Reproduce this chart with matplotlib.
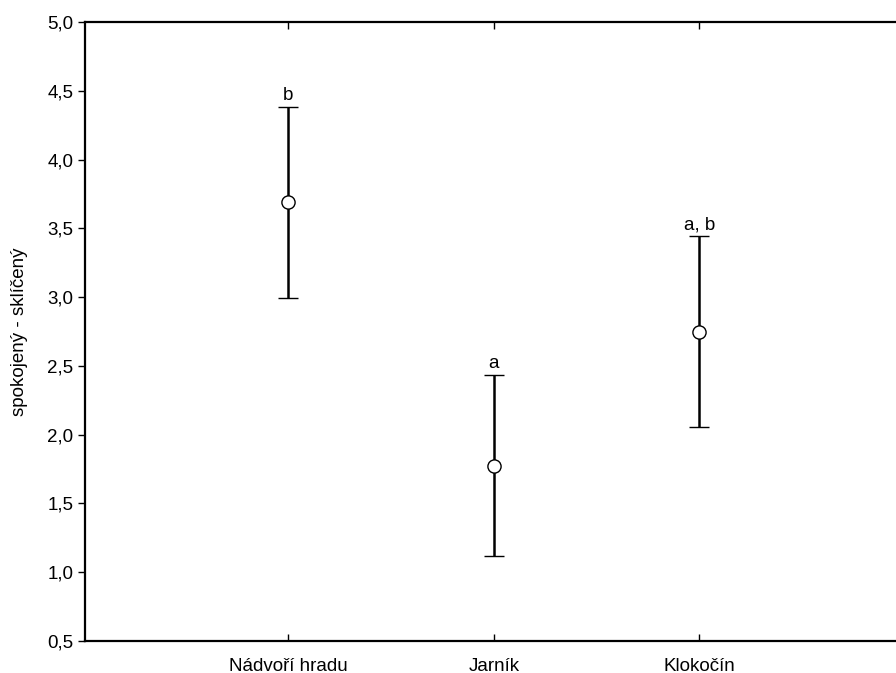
import numpy as np
import matplotlib
matplotlib.use('Agg')
import matplotlib.pyplot as plt
from matplotlib.ticker import FuncFormatter

plt.rcParams['font.family'] = ['Liberation Sans', 'DejaVu Sans']
plt.rc('font', size=13.5)

sites = ['Nádvoří hradu', 'Jarník', 'Klokočín']
means = [3.69, 1.775, 2.75]
upper = [4.385, 2.435, 3.445]
lower = [2.99, 1.12, 2.055]
letters = ['b', 'a', 'a, b']

x = np.arange(1, len(sites) + 1)
means = np.array(means)
err = [means - np.array(lower), np.array(upper) - means]

fig = plt.figure(figsize=(8.96, 6.73), dpi=100)
ax = fig.add_axes([85 / 896, 32 / 673, 811 / 896, 619 / 673])

ax.errorbar(x, means, yerr=err, fmt='o', color='black', ecolor='black',
            elinewidth=1.8, capsize=7.5, capthick=1.8,
            markerfacecolor='white', markeredgecolor='black',
            markeredgewidth=1.0, markersize=9.5, zorder=3)

for xi, up, lab in zip(x, upper, letters):
    ax.text(xi, up + 0.02, lab, ha='center', va='bottom', fontsize=13.5)

# axis runs on past the right edge of the picture, so no right spine shows
ax.set_xlim(0.01, 0.01 + 811 / 205.5)
ax.set_ylim(0.5, 5.0)
ax.set_xticks(x)
ax.set_xticklabels(sites)
ax.set_yticks(np.arange(0.5, 5.01, 0.5))
ax.yaxis.set_major_formatter(FuncFormatter(lambda v, p: ('%.1f' % v).replace('.', ',')))

ax.spines['right'].set_visible(False)
for s in ['left', 'top', 'bottom']:
    ax.spines[s].set_linewidth(1.6)

ax.tick_params(axis='x', direction='in', top=True, length=5, width=1, pad=12)
ax.tick_params(axis='y', direction='out', length=5, width=1)

ax.set_ylabel('spokojený - sklíčený', labelpad=14)

fig.savefig('out.png', dpi=100)
